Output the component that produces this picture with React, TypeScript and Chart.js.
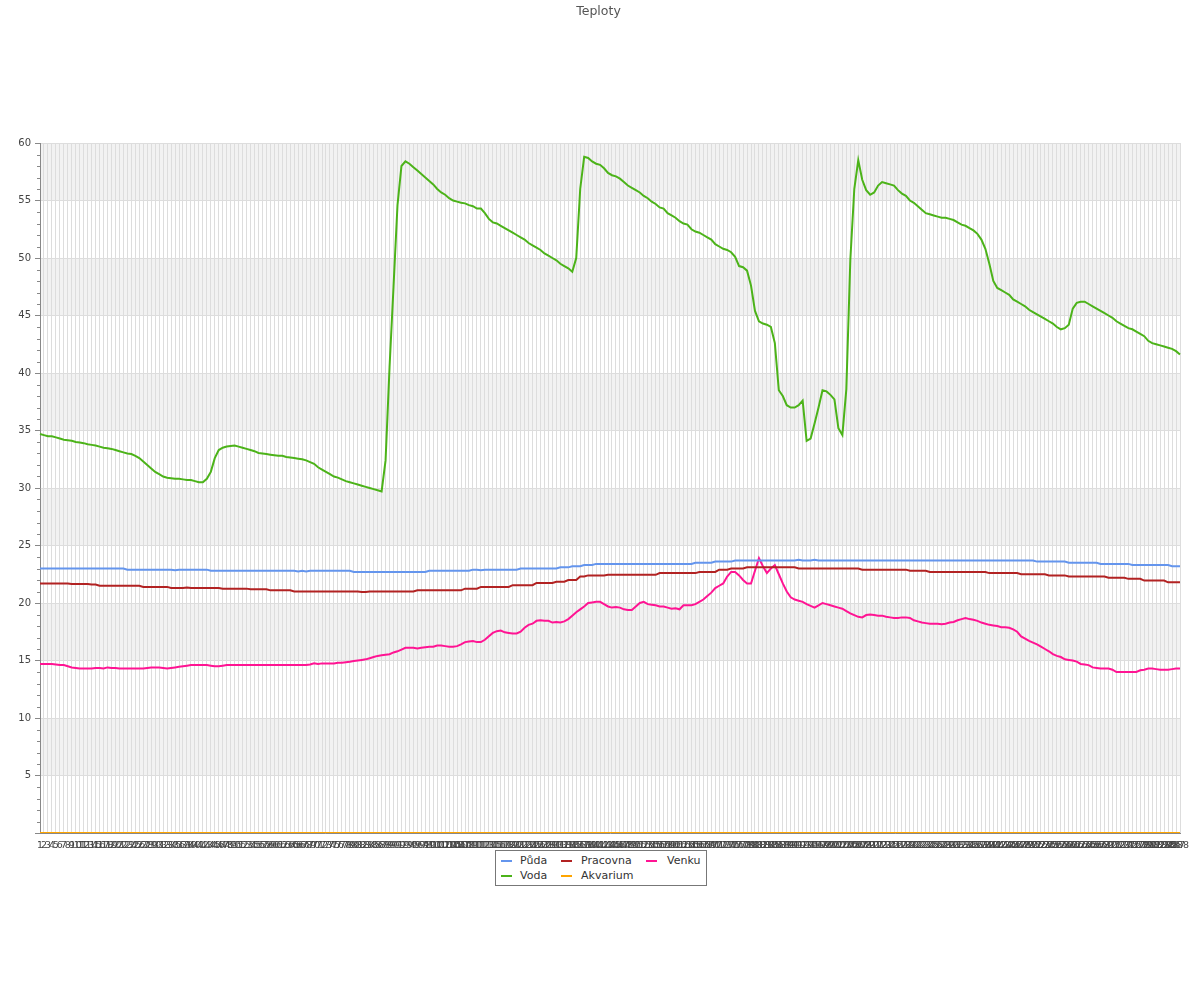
import React, { useEffect, useRef } from "react";
import { Chart, registerables } from "chart.js";

Chart.register(...registerables);

const CATEGORIES: string[] = Array.from({ length: 288 }, (_, i) => String(i + 1));

const PUDA: number[] = [
  23.0, 23.0, 23.0, 23.0, 23.0, 23.0, 23.0, 23.0, 23.0, 23.0, 23.0, 23.0, 23.0, 23.0, 23.0, 23.0, 23.0, 23.0, 23.0, 23.0, 23.0, 23.0,
  22.9, 22.9, 22.9, 22.9, 22.9, 22.9, 22.9, 22.9, 22.9, 22.9, 22.9, 22.9, 22.85, 22.9, 22.9, 22.9, 22.9, 22.9, 22.9, 22.9, 22.9,
  22.8, 22.8, 22.8, 22.8, 22.8, 22.8, 22.8, 22.8, 22.8, 22.8, 22.8, 22.8, 22.8, 22.8, 22.8, 22.8, 22.8, 22.8,
  22.8, 22.8, 22.8, 22.8, 22.75, 22.8, 22.75, 22.8, 22.8, 22.8, 22.8, 22.8, 22.8, 22.8, 22.8, 22.8, 22.8, 22.8,
  22.7, 22.7, 22.7, 22.7, 22.7, 22.7, 22.7, 22.7, 22.7, 22.7, 22.7, 22.7, 22.7, 22.7, 22.7, 22.7, 22.7, 22.7, 22.7,
  22.8, 22.8, 22.8, 22.8, 22.8, 22.8, 22.8, 22.8, 22.8, 22.8, 22.8,
  22.9, 22.9, 22.85, 22.9, 22.9, 22.9, 22.9, 22.9, 22.9, 22.9, 22.9, 22.9,
  23.0, 23.0, 23.0, 23.0, 23.0, 23.0, 23.0, 23.0, 23.0, 23.0,
  23.1, 23.1, 23.1,
  23.2, 23.2, 23.2,
  23.3, 23.3, 23.3,
  23.4, 23.4, 23.4, 23.4, 23.4, 23.4, 23.4, 23.4, 23.4, 23.4, 23.4, 23.4, 23.4, 23.4, 23.4, 23.4, 23.4, 23.4, 23.4, 23.4, 23.4, 23.4, 23.4, 23.4, 23.4,
  23.5, 23.5, 23.5, 23.5, 23.5,
  23.6, 23.6, 23.6, 23.6, 23.6,
  23.7, 23.7, 23.7, 23.7, 23.7, 23.7, 23.7, 23.7, 23.7, 23.7, 23.7, 23.7, 23.7, 23.7, 23.7, 23.7, 23.75, 23.7, 23.7, 23.7,
  23.75, 23.7, 23.7, 23.7, 23.7, 23.7, 23.7, 23.7, 23.7, 23.7, 23.7, 23.7, 23.7, 23.7, 23.7, 23.7, 23.7, 23.7, 23.7, 23.7,
  23.7, 23.7, 23.7, 23.7, 23.7, 23.7, 23.7, 23.7, 23.7, 23.7, 23.7, 23.7, 23.7, 23.7, 23.7, 23.7, 23.7, 23.7, 23.7, 23.7,
  23.7, 23.7, 23.7, 23.7, 23.7, 23.7, 23.7, 23.7, 23.7, 23.7, 23.7, 23.7, 23.7, 23.7, 23.7, 23.7,
  23.6, 23.6, 23.6, 23.6, 23.6, 23.6, 23.6, 23.6,
  23.5, 23.5, 23.5, 23.5, 23.5, 23.5, 23.5, 23.5,
  23.4, 23.4, 23.4, 23.4, 23.4, 23.4, 23.4, 23.4,
  23.3, 23.3, 23.3, 23.3, 23.3, 23.3, 23.3, 23.3, 23.3, 23.3,
  23.2, 23.2, 23.2,
];

const VODA: number[] = [
  34.7, 34.6, 34.5, 34.5, 34.4, 34.3, 34.2, 34.15, 34.1, 34.0,
  33.95, 33.9, 33.8, 33.75, 33.7, 33.6, 33.5, 33.45, 33.4, 33.3,
  33.2, 33.1, 33.0, 32.95, 32.8, 32.6, 32.3, 32.0, 31.7, 31.4,
  31.2, 31.0, 30.9, 30.85, 30.8, 30.8, 30.75, 30.7, 30.7, 30.6,
  30.5, 30.5, 30.8, 31.4, 32.6, 33.3, 33.5, 33.6, 33.65, 33.7,
  33.6, 33.5, 33.4, 33.3, 33.2, 33.05, 33.0, 32.95, 32.9, 32.85,
  32.8, 32.8, 32.7, 32.65, 32.6, 32.55, 32.5, 32.4, 32.25, 32.1,
  31.8, 31.6, 31.4, 31.2, 31.0, 30.9, 30.75, 30.6, 30.5, 30.4,
  30.3, 30.2, 30.1, 30.0, 29.9, 29.8, 29.7, 32.4, 40.5, 47.5,
  54.6, 58.0, 58.4, 58.2, 57.9, 57.6, 57.3, 57.0, 56.7, 56.4,
  56.0, 55.7, 55.5, 55.2, 55.0, 54.9, 54.8, 54.75, 54.6, 54.5,
  54.3, 54.3, 53.9, 53.4, 53.1, 53.0, 52.8, 52.6, 52.4, 52.2,
  52.0, 51.8, 51.6, 51.3, 51.1, 50.9, 50.7, 50.4, 50.2, 50.0,
  49.8, 49.5, 49.3, 49.1, 48.8, 50.0, 56.0, 58.8, 58.7, 58.4,
  58.2, 58.1, 57.8, 57.4, 57.2, 57.1, 56.9, 56.6, 56.3, 56.1,
  55.9, 55.7, 55.4, 55.2, 54.9, 54.7, 54.4, 54.3, 53.9, 53.7,
  53.5, 53.2, 53.0, 52.9, 52.5, 52.3, 52.2, 52.0, 51.8, 51.6,
  51.2, 51.0, 50.8, 50.7, 50.5, 50.1, 49.3, 49.2, 48.9, 47.6,
  45.4, 44.5, 44.3, 44.2, 44.0, 42.6, 38.5, 38.0, 37.2, 37.0,
  37.0, 37.2, 37.6, 34.1, 34.3, 35.6, 37.0, 38.5, 38.4, 38.1,
  37.7, 35.2, 34.6, 38.6, 49.8, 56.0, 58.5, 56.8, 55.9, 55.5,
  55.7, 56.3, 56.6, 56.5, 56.4, 56.3, 55.9, 55.6, 55.4, 55.0,
  54.8, 54.5, 54.2, 53.9, 53.8, 53.7, 53.6, 53.5, 53.5, 53.4,
  53.3, 53.1, 52.9, 52.8, 52.6, 52.4, 52.1, 51.6, 50.8, 49.5,
  48.0, 47.4, 47.2, 47.0, 46.8, 46.4, 46.2, 46.0, 45.8, 45.5,
  45.3, 45.1, 44.9, 44.7, 44.5, 44.3, 44.0, 43.8, 43.9, 44.2,
  45.6, 46.1, 46.2, 46.2, 46.0, 45.8, 45.6, 45.4, 45.2, 45.0,
  44.8, 44.5, 44.3, 44.1, 43.9, 43.8, 43.6, 43.4, 43.2, 42.8,
  42.6, 42.5, 42.4, 42.3, 42.2, 42.1, 41.9, 41.6,
];

const PRACOVNA: number[] = [
  21.7, 21.7, 21.7, 21.7, 21.7, 21.7, 21.7, 21.7,
  21.65, 21.65, 21.65, 21.65, 21.65,
  21.6, 21.6,
  21.5, 21.5, 21.5, 21.5, 21.5, 21.5, 21.5, 21.5, 21.5, 21.5, 21.5,
  21.4, 21.4, 21.4, 21.4, 21.4, 21.4, 21.4,
  21.3, 21.3, 21.3, 21.3, 21.35, 21.3, 21.3, 21.3, 21.3, 21.3, 21.3, 21.3, 21.3,
  21.25, 21.25, 21.25, 21.25, 21.25, 21.25, 21.25,
  21.2, 21.2, 21.2, 21.2, 21.2,
  21.1, 21.1, 21.1, 21.1, 21.1, 21.1,
  21.0, 21.0, 21.0, 21.0, 21.0, 21.0, 21.0, 21.0, 21.0, 21.0, 21.0, 21.0, 21.0, 21.0, 21.0, 21.0, 21.0,
  20.95, 20.95,
  21.0, 21.0, 21.0, 21.0, 21.0, 21.0, 21.0, 21.0, 21.0, 21.0, 21.0, 21.0,
  21.1, 21.1, 21.1, 21.1, 21.1, 21.1, 21.1, 21.1, 21.1, 21.1, 21.1, 21.1,
  21.25, 21.25, 21.25, 21.25,
  21.4, 21.4, 21.4, 21.4, 21.4, 21.4, 21.4, 21.4,
  21.55, 21.55, 21.55, 21.55, 21.55, 21.55,
  21.75, 21.75, 21.75, 21.75, 21.75,
  21.85, 21.85, 21.85,
  22.0, 22.0, 22.0,
  22.3, 22.3,
  22.4, 22.4, 22.4, 22.4, 22.4,
  22.45, 22.45, 22.45, 22.45, 22.45, 22.45, 22.45, 22.45, 22.45, 22.45, 22.45, 22.45, 22.45,
  22.6, 22.6, 22.6, 22.6, 22.6, 22.6, 22.6, 22.6, 22.6, 22.6,
  22.7, 22.7, 22.7, 22.7, 22.7,
  22.9, 22.9, 22.9,
  23.0, 23.0, 23.0, 23.0,
  23.1, 23.1, 23.1, 23.1, 23.1, 23.1, 23.1, 23.1, 23.1, 23.1, 23.1, 23.1, 23.1,
  23.0, 23.0, 23.0, 23.0, 23.0, 23.0, 23.0, 23.0, 23.0, 23.0, 23.0, 23.0, 23.0, 23.0, 23.0, 23.0,
  22.9, 22.9, 22.9, 22.9, 22.9, 22.9, 22.9, 22.9, 22.9, 22.9, 22.9, 22.9,
  22.8, 22.8, 22.8, 22.8, 22.8,
  22.7, 22.7, 22.7, 22.7, 22.7, 22.7, 22.7, 22.7, 22.7, 22.7, 22.7, 22.7, 22.7, 22.7, 22.7,
  22.6, 22.6, 22.6, 22.6, 22.6, 22.6, 22.6, 22.6,
  22.5, 22.5, 22.5, 22.5, 22.5, 22.5, 22.5,
  22.4, 22.4, 22.4, 22.4, 22.4,
  22.3, 22.3, 22.3, 22.3, 22.3, 22.3, 22.3, 22.3, 22.3, 22.3,
  22.2, 22.2, 22.2, 22.2, 22.2,
  22.1, 22.1, 22.1, 22.1,
  21.95, 21.95, 21.95, 21.95, 21.95, 21.95,
  21.8, 21.8, 21.8, 21.8,
];

const AKVARIUM: number[] = [
  0, 0, 0, 0, 0, 0, 0, 0, 0, 0, 0, 0, 0, 0, 0, 0, 0, 0, 0, 0, 0, 0, 0, 0,
  0, 0, 0, 0, 0, 0, 0, 0, 0, 0, 0, 0, 0, 0, 0, 0, 0, 0, 0, 0, 0, 0, 0, 0,
  0, 0, 0, 0, 0, 0, 0, 0, 0, 0, 0, 0, 0, 0, 0, 0, 0, 0, 0, 0, 0, 0, 0, 0,
  0, 0, 0, 0, 0, 0, 0, 0, 0, 0, 0, 0, 0, 0, 0, 0, 0, 0, 0, 0, 0, 0, 0, 0,
  0, 0, 0, 0, 0, 0, 0, 0, 0, 0, 0, 0, 0, 0, 0, 0, 0, 0, 0, 0, 0, 0, 0, 0,
  0, 0, 0, 0, 0, 0, 0, 0, 0, 0, 0, 0, 0, 0, 0, 0, 0, 0, 0, 0, 0, 0, 0, 0,
  0, 0, 0, 0, 0, 0, 0, 0, 0, 0, 0, 0, 0, 0, 0, 0, 0, 0, 0, 0, 0, 0, 0, 0,
  0, 0, 0, 0, 0, 0, 0, 0, 0, 0, 0, 0, 0, 0, 0, 0, 0, 0, 0, 0, 0, 0, 0, 0,
  0, 0, 0, 0, 0, 0, 0, 0, 0, 0, 0, 0, 0, 0, 0, 0, 0, 0, 0, 0, 0, 0, 0, 0,
  0, 0, 0, 0, 0, 0, 0, 0, 0, 0, 0, 0, 0, 0, 0, 0, 0, 0, 0, 0, 0, 0, 0, 0,
  0, 0, 0, 0, 0, 0, 0, 0, 0, 0, 0, 0, 0, 0, 0, 0, 0, 0, 0, 0, 0, 0, 0, 0,
  0, 0, 0, 0, 0, 0, 0, 0, 0, 0, 0, 0, 0, 0, 0, 0, 0, 0, 0, 0, 0, 0, 0, 0,
];

const VENKU: number[] = [
  14.7, 14.7, 14.7, 14.7, 14.65, 14.6, 14.6, 14.5, 14.4, 14.35,
  14.3, 14.3, 14.3, 14.3, 14.35, 14.35, 14.3, 14.4, 14.35, 14.35,
  14.3, 14.3, 14.3, 14.3, 14.3, 14.3, 14.3, 14.35, 14.4, 14.4,
  14.4, 14.35, 14.3, 14.35, 14.4, 14.45, 14.5, 14.55, 14.6, 14.6,
  14.6, 14.6, 14.6, 14.55, 14.5, 14.5, 14.55, 14.6, 14.6, 14.6,
  14.6, 14.6, 14.6, 14.6, 14.6, 14.6, 14.6, 14.6, 14.6, 14.6,
  14.6, 14.6, 14.6, 14.6, 14.6, 14.6, 14.6, 14.6, 14.65, 14.75,
  14.7, 14.75, 14.75, 14.75, 14.75, 14.8, 14.8, 14.85, 14.9, 14.95,
  15.0, 15.05, 15.1, 15.2, 15.3, 15.4, 15.45, 15.5, 15.55, 15.7,
  15.8, 15.95, 16.1, 16.1, 16.1, 16.05, 16.1, 16.15, 16.2, 16.2,
  16.3, 16.3, 16.25, 16.2, 16.2, 16.25, 16.4, 16.6, 16.65, 16.7,
  16.6, 16.6, 16.8, 17.1, 17.4, 17.55, 17.6, 17.45, 17.4, 17.35,
  17.35, 17.5, 17.85, 18.1, 18.2, 18.45, 18.5, 18.45, 18.45, 18.3,
  18.35, 18.3, 18.4, 18.6, 18.9, 19.2, 19.45, 19.7, 20.0, 20.05,
  20.1, 20.1, 19.9, 19.7, 19.6, 19.65, 19.6, 19.45, 19.4, 19.4,
  19.7, 20.0, 20.1, 19.9, 19.85, 19.8, 19.7, 19.7, 19.6, 19.5,
  19.55, 19.45, 19.8, 19.8, 19.8, 19.9, 20.1, 20.3, 20.6, 20.9,
  21.3, 21.5, 21.7, 22.3, 22.7, 22.7, 22.4, 22.0, 21.7, 21.7,
  22.8, 23.9, 23.2, 22.6, 23.0, 23.3, 22.5, 21.7, 21.0, 20.5,
  20.3, 20.2, 20.1, 19.9, 19.75, 19.6, 19.8, 20.0, 19.9, 19.8,
  19.7, 19.6, 19.5, 19.3, 19.1, 18.95, 18.8, 18.75, 18.95, 19.0,
  18.95, 18.9, 18.9, 18.8, 18.75, 18.7, 18.7, 18.75, 18.75, 18.7,
  18.5, 18.4, 18.3, 18.25, 18.2, 18.2, 18.2, 18.15, 18.2, 18.3,
  18.35, 18.5, 18.6, 18.7, 18.6, 18.55, 18.45, 18.3, 18.2, 18.1,
  18.05, 18.0, 17.9, 17.9, 17.85, 17.7, 17.5, 17.1, 16.9, 16.7,
  16.55, 16.4, 16.2, 16.0, 15.8, 15.55, 15.4, 15.3, 15.1, 15.05,
  15.0, 14.9, 14.7, 14.65, 14.6, 14.4, 14.35, 14.3, 14.3, 14.3,
  14.2, 14.0, 14.0, 14.0, 14.0, 14.0, 14.0, 14.15, 14.2, 14.3,
  14.3, 14.25, 14.2, 14.2, 14.2, 14.25, 14.3, 14.3,
];

const SERIES_NAMES = ["Půda", "Voda", "Pracovna", "Akvarium", "Venku"];
const SERIES_COLORS = ["#6495ed", "#4cb319", "#b22222", "#ffa500", "#ff1493"];
const SERIES_DATA = [PUDA, VODA, PRACOVNA, AKVARIUM, VENKU];
const TITLE = "Teploty";

const Y_MIN = 0;
const Y_MAX = 60;
const Y_STEP = 5;
const FONT = "'DejaVu Sans', sans-serif";

const bandsPlugin = {
  id: "bands",
  beforeDraw(chart: any) {
    const { ctx, chartArea, scales } = chart;
    const y = scales.y;
    ctx.save();
    ctx.fillStyle = "#f2f2f2";
    for (let v = Y_MAX; v > Y_MIN; v -= 2 * Y_STEP) {
      const top = y.getPixelForValue(v);
      const bot = y.getPixelForValue(v - Y_STEP);
      ctx.fillRect(chartArea.left, top, chartArea.right - chartArea.left, bot - top);
    }
    ctx.restore();
  },
};

const minorTicksPlugin = {
  id: "minorTicks",
  afterDraw(chart: any) {
    const { ctx, chartArea, scales } = chart;
    const y = scales.y;
    ctx.save();
    ctx.strokeStyle = "#888";
    ctx.lineWidth = 1;
    for (let v = Y_MIN; v <= Y_MAX; v += 1) {
      if (v % Y_STEP === 0) continue;
      const py = Math.round(y.getPixelForValue(v)) + 0.5;
      ctx.beginPath();
      ctx.moveTo(chartArea.left - 3, py);
      ctx.lineTo(chartArea.left, py);
      ctx.stroke();
    }
    ctx.restore();
  },
};

export default function App() {
  const canvasRef = useRef<HTMLCanvasElement | null>(null);

  useEffect(() => {
    if (!canvasRef.current) return;
    const chart = new Chart(canvasRef.current, {
      type: "line",
      data: {
        labels: CATEGORIES,
        datasets: SERIES_NAMES.map((name, i) => ({
          label: name,
          data: SERIES_DATA[i],
          borderColor: SERIES_COLORS[i],
          backgroundColor: SERIES_COLORS[i],
          borderWidth: 2,
          pointRadius: 0,
          pointHoverRadius: 0,
          tension: 0,
          fill: false,
        })),
      },
      options: {
        responsive: false,
        animation: false,
        events: [],
        layout: { padding: { left: 0, right: 20, top: 143, bottom: 0 } },
        plugins: {
          legend: { display: false },
          tooltip: { enabled: false },
          title: { display: false },
        },
        scales: {
          x: {
            type: "category",
            offset: false,
            grid: { color: "#dddddd", lineWidth: 1, drawTicks: false },
            border: { display: true, color: "#888" },
            ticks: {
              autoSkip: false,
              maxRotation: 0,
              minRotation: 0,
              padding: 7,
              color: "#444",
              font: { family: FONT, size: 9.5 },
            },
            afterFit: (scale: any) => {
              scale.height = 167;
            },
          },
          y: {
            min: Y_MIN,
            max: Y_MAX,
            grid: { color: "#dddddd", lineWidth: 1, tickColor: "#888", tickLength: 5 },
            border: { display: true, color: "#888" },
            ticks: {
              stepSize: Y_STEP,
              padding: 4,
              color: "#444",
              font: { family: FONT, size: 10 },
              callback: (v: any) => (Number(v) === 0 ? "" : String(v)),
            },
            afterFit: (scale: any) => {
              scale.width = 40;
            },
          },
        },
      },
      plugins: [bandsPlugin, minorTicksPlugin],
    } as any);
    return () => chart.destroy();
  }, []);

  const legendItems = [
    { i: 0, col: 0, row: 0 },
    { i: 2, col: 1, row: 0 },
    { i: 4, col: 2, row: 0 },
    { i: 1, col: 0, row: 1 },
    { i: 3, col: 1, row: 1 },
  ];
  const colLine = [5, 65, 150];
  const colText = [24, 85, 171];
  const rowY = [10, 25];

  return (
    <div style={{ position: "absolute", left: 0, top: 0, width: 1200, height: 1000 }}>
      <canvas ref={canvasRef} width={1200} height={1000} style={{ display: "block" }} />
      <div
        style={{
          position: "absolute",
          left: 0,
          top: 3,
          width: 1197,
          textAlign: "center",
          fontFamily: FONT,
          fontSize: 12.5,
          lineHeight: "16px",
          color: "#555",
        }}
      >
        {TITLE}
      </div>
      <div
        style={{
          position: "absolute",
          left: 495,
          top: 850,
          width: 212,
          height: 36,
          boxSizing: "border-box",
          border: "1px solid #777",
          background: "#fff",
          fontFamily: FONT,
          fontSize: 11,
          color: "#333",
        }}
      >
        {legendItems.map(({ i, col, row }) => (
          <React.Fragment key={SERIES_NAMES[i]}>
            <span
              style={{
                position: "absolute",
                left: colLine[col],
                top: rowY[row] - 1,
                width: 11,
                height: 2,
                background: SERIES_COLORS[i],
              }}
            />
            <span
              style={{
                position: "absolute",
                left: colText[col],
                top: rowY[row] - 7,
                lineHeight: "14px",
                whiteSpace: "nowrap",
              }}
            >
              {SERIES_NAMES[i]}
            </span>
          </React.Fragment>
        ))}
      </div>
    </div>
  );
}
